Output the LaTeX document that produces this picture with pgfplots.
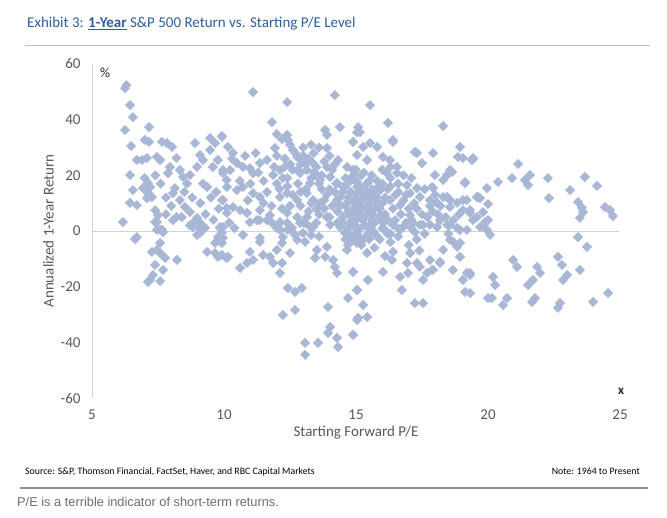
\documentclass[border=0pt]{standalone}
\usepackage{fontspec}
\setmainfont{Carlito}
\newfontfamily\arialfont{Liberation Sans}
\usepackage{pgfplots}
\pgfplotsset{compat=1.18}
\definecolor{ptblue}{RGB}{168,183,214}
\definecolor{titleblue}{RGB}{45,95,158}
\definecolor{axgray}{RGB}{210,210,210}
\definecolor{labgray}{RGB}{89,89,89}
\definecolor{capgray}{RGB}{110,110,110}

\begin{document}
\begin{tikzpicture}[x=1pt,y=1pt]
\useasboundingbox (0pt,0pt) rectangle (667pt,518pt);
\fill[white] (0pt,0pt) rectangle (667pt,518pt);
% title and rule
\node[anchor=base west, inner sep=0, text=titleblue, font=\fontsize{15}{18}\selectfont]
  at (27pt,490pt) {Exhibit 3: \textbf{\underline{1-Year}} S\&P 500 Return vs. Starting P/E Level};
\draw[black!25, line width=0.8] (25pt,473pt) -- (650pt,473pt);

\begin{axis}[
  at={(92pt,120pt)}, anchor=south west, scale only axis,
  width=528pt, height=334pt,
  xmin=5, xmax=25, ymin=-60, ymax=60,
  xtick={5,10,15,20,25}, ytick={-60,-40,-20,0,20,40,60},
  axis lines*=left,
  x axis line style={draw=none},
  y axis line style={axgray, line width=0.8pt},
  major tick length=0pt,
  /pgf/number format/assume math mode=true,
  tick label style={font=\fontsize{15}{17}\selectfont, text=labgray},
  yticklabel style={xshift=-8pt},
  xticklabel style={yshift=-8pt},
  xlabel={Starting Forward P/E},
  ylabel={Annualized 1-Year Return},
  label style={font=\fontsize{15}{17}\selectfont, text=labgray},
  clip=false,
]
\draw[axgray, line width=0.8pt] (axis cs:5,0) -- (axis cs:24.95,0);
\addplot[only marks, mark=square*, mark size=3.3pt,
  mark options={rotate=45, fill=ptblue, draw=ptblue}] coordinates {
(6.3,52.4) (6.25,51.3) (6.44,45.2) (6.55,40.9) (6.25,36.3) (7.16,37.3)
(6.48,30.5) (7.0,32.7) (7.16,32) (7.65,32) (7.84,31.6) (8.03,30.2)
(8.2,26.2) (6.7,25.5) (6.9,25.5) (7.08,26.2) (7.46,26.6) (7.58,25.5)
(7.95,23) (7.88,20.8) (6.44,20.1) (7.0,19) (7.12,17.2) (7.2,15.8)
(6.93,15.4) (6.55,14.7) (7.12,13.6) (7.27,12.2) (7.08,11.8) (6.44,10.1)
(6.7,9.3) (7.39,7.5) (7.5,5.7) (7.46,3.2) (6.17,3.2) (7.58,0.4)
(7.69,-0.4) (6.7,-2.2)
(8.14,15.4) (8.07,13.6) (8.33,11.1) (8.52,8.6) (8.71,6.8) (8.98,4.7)
(9.09,2.9) (9.28,1.1) (8.83,1.4) (9.09,-0.7) (8.33,21.9) (8.45,19.4)
(8.71,20.1) (8.98,23) (9.2,25.5) (9.09,27.3) (8.9,31.6) (9.47,29.1)
(9.66,31.6) (9.47,33.4) (9.92,33.8) (9.36,15.8) (9.58,23) (9.77,25.5)
(9.96,21.9) (10.1,18.3) (9.92,11.1) (10.1,8.3) (8.4,5) (8.07,3.9)
(6.63,-2.9) (7.58,-4.3) (7.46,-6.8) (7.27,-7.5) (7.58,-7.9) (7.77,-9.7)
(8.22,-10.4) (7.39,-12.2) (7.69,-14) (7.31,-15.8) (7.2,-17.6) (7.12,-18.3)
(7.58,-18) (7.39,3.2) (7.65,0.4) (7.46,0.4) (8.83,2.9) (9.09,1.1)
(8.98,-1.4) (9.77,-2.2) (9.66,-4.3) (9.36,-7.5) (9.66,-7.9) (9.77,-9.3)
(10.1,-9.7) (9.85,1.1) (9.96,1.4)
(11.1,49.9) (12.39,46.3) (14.2,48.8) (11.82,39.1) (9.92,34.1) (12.0,34.8)
(12.39,34.5) (12.42,32.7) (13.83,36.3) (13.9,34.5) (14.39,37.3) (14.89,32)
(15.04,35.5) (13.9,29.8) (10.15,30.2) (10.34,28) (11.93,29.8) (11.63,25.5)
(11.36,24.4) (12.61,29.1) (12.77,26.6) (12.99,25.5) (13.37,24.4) (14.32,25.5)
(14.66,23) (14.89,21.9) (10.49,24.4) (10.23,21.9) (9.96,20.8) (10.72,23)
(10.98,22.6) (11.1,20.8) (12.12,21.9) (11.86,20.1) (12.23,19) (12.88,20.8)
(13.14,21.9) (13.52,20.1) (13.64,18.3) (13.26,17.2) (14.02,19.4) (14.28,17.2)
(14.51,15.8) (14.77,18.3) (15.04,15.8) (10.11,15.8) (10.49,14.7) (10.72,15.8)
(11.1,13.6) (11.36,12.2) (11.63,14) (12.12,12.2) (12.39,13.6) (12.77,11.1)
(13.14,13.6) (13.37,11.1) (13.64,10.1) (14.28,11.1) (14.66,10.1) (14.89,7.5)
(10.34,8.6) (10.61,7.5) (10.87,6.5) (10.11,6.5) (11.36,7.5) (11.74,5.7)
(11.63,3.9) (11.25,3.9) (12.39,6.5) (12.12,3.2) (12.77,5) (13.14,5)
(12.0,1.1) (12.5,0.4) (12.88,2.9) (13.37,1.4) (13.9,5) (14.02,2.2)
(14.39,1.4) (14.77,2.9) (15.04,1.1) (9.96,11.1) (9.85,1.4) (10.72,-1.4)
(11.36,-2.5)
(10.98,3.2) (11.36,3.9) (11.82,2.9) (12.05,2.2) (12.39,2.9) (12.58,1.1)
(13.07,2.9) (13.26,1.4) (12.99,-0.7) (9.92,-0.7) (9.96,-2.5) (9.92,-4.3)
(10.15,-9.3) (9.92,-8.6) (11.36,-3.9) (10.98,-7.5) (11.48,-8.6) (11.1,-10.4)
(10.87,-11.5) (10.61,-13.3) (11.74,-9.3) (12.0,-6.8) (12.2,-4.3) (12.23,-2.2)
(12.12,0.4) (12.39,0.4) (11.86,-11.5) (12.2,-11.5) (12.12,-15.1) (12.5,-7.9)
(12.77,-3.2) (13.07,-3.9) (12.42,-20.5) (12.69,-21.9) (12.95,-20.5) (12.23,-30.2)
(12.69,-28.4) (13.07,-40.2) (13.56,-40.2) (13.07,-44.5) (13.52,-6.8) (13.9,-5.7)
(13.45,-9.7) (13.83,-9.3) (14.13,-10.4) (14.2,-12.9) (14.28,-15.1) (14.66,-6.8)
(14.7,-5) (14.89,-14.7) (15.04,-21.2) (14.7,-24.1) (13.94,-27.3) (14.02,-34.5)
(13.94,-36.6) (14.28,-38.4) (14.32,-41.7) (14.89,-37.3) (15.04,-32) (14.58,-0.7)
(14.77,2.2) (15.04,0.4) (14.89,-3.2)
(15.53,45.2) (16.21,38.8) (16.4,32.7) (18.3,37.7) (15.08,37.3) (15.15,35.5)
(14.89,32) (15.27,30.2) (15.53,31.6) (15.8,30.2) (17.23,28.4) (17.92,28)
(17.5,24.4) (18.94,30.2) (19.05,26.2) (19.43,26.2) (18.86,26.6) (18.56,21.9)
(18.45,20.1) (17.99,20.1) (17.88,15.8) (19.13,17.6) (19.62,12.2) (19.96,15.4)
(15.04,27.3) (15.42,25.5) (16.02,26.6) (16.29,25.5) (16.55,23) (16.17,20.8)
(16.55,20.8) (16.93,16.5) (17.31,15.4) (17.05,13.6) (17.42,12.2) (17.8,11.1)
(18.07,10.1) (18.3,12.2) (18.56,11.1) (18.83,10.1) (19.05,11.1) (18.56,8.6)
(19.05,7.5) (19.32,6.5) (19.58,5) (19.81,6.8) (20.0,3.9) (19.7,1.4)
(19.96,0.4)
(14.96,18.3) (15.15,14.7) (15.53,12.9) (15.91,14.7) (16.29,11.1) (16.67,9.3)
(15.15,9.3) (15.53,7.5) (15.91,5.7) (16.48,3.9) (17.05,5.7) (17.42,2.2)
(15.34,2.2) (16.1,0.4) (16.67,0.4) (17.23,-0.4) (17.8,2.2) (18.18,3.9)
(18.56,2.2) (18.94,0.4) (14.77,5.7) (14.96,11.1)
(15.1,16) (15.3,13) (15.5,10) (15.2,8) (15.4,6) (15.0,4) (15.3,2) (15.6,4)
(15.7,8) (15.8,12) (15.9,16) (16.0,10) (16.1,6) (15.2,20) (15.5,18) (14.8,14)
(14.6,9) (14.9,8) (14.5,5) (14.7,12) (15.0,22) (15.6,15) (15.2,11) (15.45,-1)
(15.1,-2) (14.8,-1.5) (15.8,-2)
(15.04,1.4) (15.53,2.2) (16.02,2.9) (16.4,2.2) (16.78,1.4) (17.16,2.9)
(17.54,2.2) (18.07,1.4) (18.45,2.2) (18.83,1.1) (19.2,0.4)
(15.42,-7.9) (15.04,-4.3) (16.4,-7.5) (16.36,-10.4) (17.05,-7.9) (16.93,-11.5)
(17.31,-11.5) (17.42,-12.9) (17.8,-10.4) (18.18,-11.5) (17.92,-14) (16.02,-14.7)
(16.67,-16.5) (16.97,-15.1) (17.54,-17.6) (17.69,-15.1) (17.88,-14) (14.89,-14.7)
(15.45,-17.6) (15.04,-21.2) (15.27,-26.6) (15.08,-31.2) (15.42,-30.9) (14.89,-37.3)
(16.74,-21.2) (17.23,-25.9) (17.54,-25.9) (18.18,-11.1) (18.83,-5.7) (18.94,-9.3)
(18.67,-14) (19.2,-15.1) (19.05,-17.6) (19.32,-15.8) (19.13,-21.9) (18.56,-3.2)
(18.94,-4.3) (18.3,-6.8) (20.0,-24.1)
(19.43,25.9) (21.14,24.1) (20.38,17.6) (20.91,19) (21.4,18.3) (21.59,20.1)
(21.52,16.5) (22.27,19) (19.7,11.8) (20.0,9.7) (19.32,7.5) (19.43,3.9)
(19.89,3.2) (20.08,-1.4) (22.31,11.8) (23.11,14.7) (23.67,19.4) (24.13,16.2)
(23.41,10.4) (23.56,8.3) (23.6,6.8) (23.48,4.7) (24.43,8.6) (24.62,7.5)
(24.73,5.4) (23.41,-2.2) (23.75,-5.7) (20.95,-10.4) (21.1,-12.9) (21.86,-12.9)
(21.97,-15.1) (21.7,-17.6) (21.52,-19.4) (21.78,-24.1) (21.67,-25.5) (20.19,-16.5)
(20.27,-19.4) (20.15,-24.1) (20.72,-24.1) (20.57,-26.6) (22.65,-9.3) (22.8,-12.2)
(23.0,-15.8) (22.84,-17.6) (23.48,-14) (22.73,-25.9) (22.65,-27.6) (23.98,-25.5)
(24.55,-22.3) (19.32,-15.1) (19.32,-22.3)
(14.2,14) (14.4,12) (14.6,16) (14.8,18) (15.0,13) (15.2,15) (15.4,17) (15.6,13)
(15.8,10) (14.3,7) (14.5,3) (14.7,1) (14.9,-2) (15.1,0) (15.3,-3) (15.5,1)
(15.7,3) (15.9,5) (14.1,9) (14.0,5) (13.8,8) (13.6,6) (13.5,3) (13.9,13) (13.7,15)
(12.2,33) (12.5,31) (12.7,28) (13.0,27) (12.3,23) (12.6,22) (12.9,24) (13.2,26)
(13.4,28) (13.6,30) (13.5,23) (13.8,25) (14.0,27) (14.1,22) (13.3,19) (13.6,17)
(12.8,17) (13.1,15) (12.4,16) (12.6,13) (12.9,9) (13.2,7) (12.5,9) (12.2,8)
(13.0,3) (12.7,-1.5) (13.3,-1.5) (13.6,-2)
(16.4,32) (17.31,28) (19.39,25.5) (18.64,21.2) (18.3,18.3) (19.13,17.2)
(17.92,15.4) (18.45,12.2) (19.2,11.1) (19.58,12.2)
(16.0,22) (16.3,19) (16.6,17) (16.2,15) (16.5,13) (16.8,11) (16.1,12) (16.4,8)
(16.7,6) (17.0,8) (17.2,10) (16.9,3) (17.1,1) (16.2,4) (15.9,-3) (16.3,-4)
(16.6,-2) (17.0,-5) (17.3,-3) (17.6,-1) (17.7,5) (17.9,7) (18.1,6) (18.4,5)
(18.7,4) (18.9,6) (18.2,9) (18.5,-1) (18.7,-4) (17.4,-7) (16.1,-9) (15.7,-6)
(10.3,26) (10.8,27) (11.2,28) (10.6,18) (11.0,17) (11.5,18) (11.3,21) (11.9,23)
(12.0,27) (10.9,11) (11.5,10) (11.8,9) (12.1,15)
(8.5,14) (8.8,12) (9.1,10) (9.3,6) (9.6,4) (9.8,8) (9.5,12) (9.2,17) (8.6,17)
(8.0,9) (7.8,12) (7.6,17) (7.4,20) (7.8,6) (8.2,5) (8.7,2) (9.7,14) (10.2,3)
(10.4,1)
(14.6,19) (14.9,20) (15.3,21) (15.6,20) (15.8,18) (16.0,17) (15.4,14) (15.7,11)
(15.9,8) (15.1,6) (15.6,6) (14.7,7) (14.4,9) (14.3,3) (14.6,-3) (15.2,-5)
(15.5,-3) (15.7,-1) (16.0,1) (16.2,-1) (14.95,10) (15.35,8.5) (15.65,0) (15.25,4)
(14.85,4) (15.45,12) (15.05,17.5) (15.75,15) (14.5,14) (14.25,17)
(12.3,26) (12.5,24) (12.8,22) (13.1,24) (13.4,21) (13.7,20) (13.9,23) (14.2,24)
(13.0,30) (13.3,31) (12.9,14) (13.3,10) (13.8,11) (14.0,15) (12.4,19) (12.0,17)
(13.5,8)
(16.3,16) (16.6,14) (16.9,13) (17.3,8) (17.5,6) (17.1,4) (16.6,1) (16.3,-1)
(17.8,9) (18.0,13) (17.6,15) (16.8,20) (16.3,23) (17.1,19)
};
\node[font=\fontsize{14}{16}\selectfont, text=black!85] at (axis cs:5.5,56.7) {\%};
\node[font=\bfseries\fontsize{13}{15}\selectfont, text=black!85] at (axis cs:25.04,-57.5) {x};
\end{axis}

% source line and caption
\node[anchor=base west, inner sep=0, font=\fontsize{9.8}{11}\selectfont] at (25pt,43pt)
  {Source: S\&P, Thomson Financial, FactSet, Haver, and RBC Capital Markets};
\node[anchor=base east, inner sep=0, font=\fontsize{9.8}{11}\selectfont] at (640pt,43pt)
  {Note: 1964 to Present};
\draw[black!45, line width=1.8] (20pt,30pt) -- (648pt,30pt);
\node[anchor=base west, inner sep=0, text=capgray, font=\arialfont\fontsize{12.8}{15}\selectfont] at (17pt,11pt)
  {P/E is a terrible indicator of short-term returns.};
\end{tikzpicture}
\end{document}
